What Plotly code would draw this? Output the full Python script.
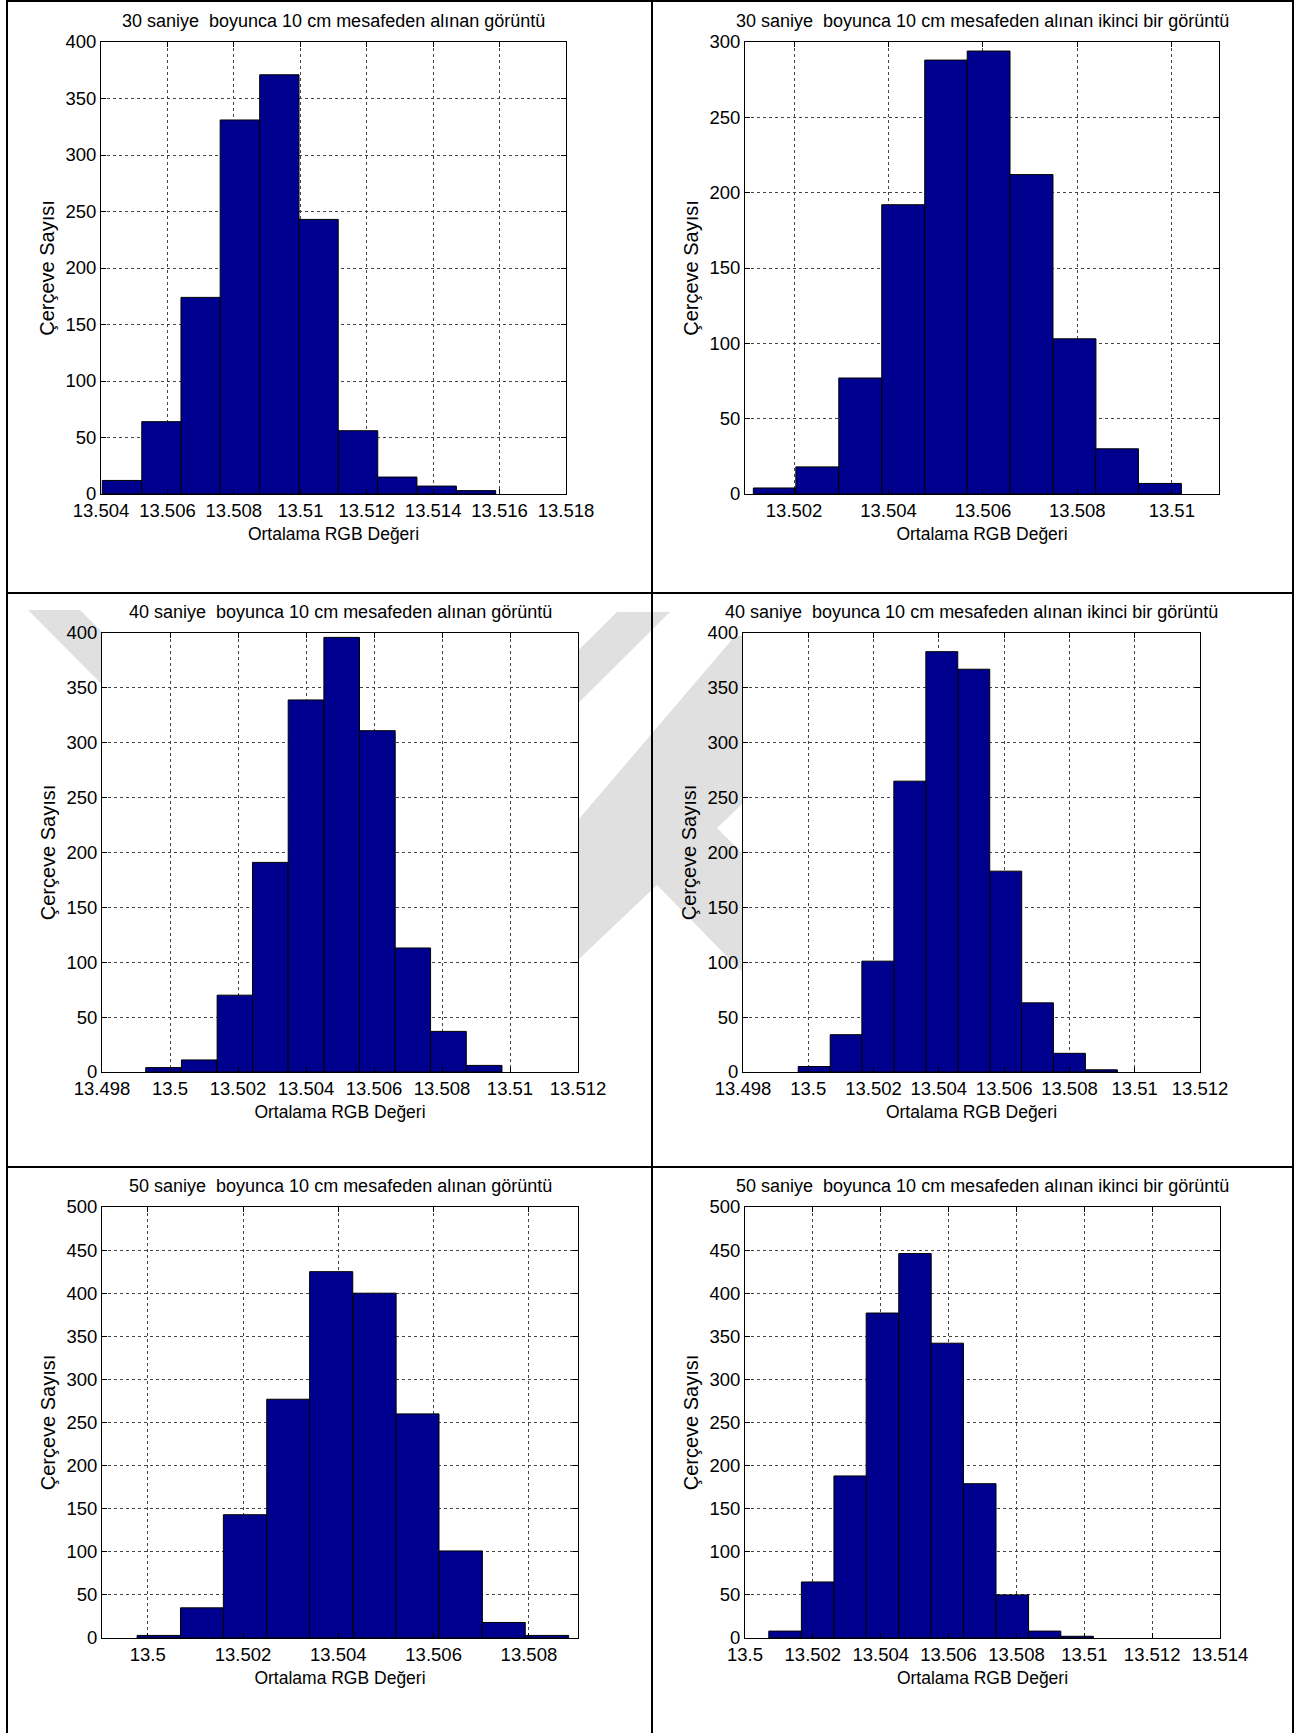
import plotly.graph_objects as go

# Histogramlar: Ortalama RGB Değeri (kutu merkezleri) ve Çerçeve Sayısı
rgb_30_1 = [13.50463, 13.50582, 13.50700, 13.50818, 13.50937, 13.51055, 13.51174, 13.51292, 13.51411, 13.51529]
sayi_30_1 = [12, 64, 174, 331, 371, 243, 56, 15, 7, 3]

rgb_30_2 = [13.50159, 13.50249, 13.50340, 13.50431, 13.50522, 13.50612, 13.50703, 13.50794, 13.50884, 13.50975]
sayi_30_2 = [4, 18, 77, 192, 288, 294, 212, 103, 30, 7]

rgb_40_1 = [13.49981, 13.50086, 13.50191, 13.50295, 13.50400, 13.50505, 13.50610, 13.50714, 13.50819, 13.50924]
sayi_40_1 = [4, 11, 70, 191, 339, 396, 311, 113, 37, 6]

rgb_40_2 = [13.50018, 13.50116, 13.50213, 13.50311, 13.50409, 13.50507, 13.50605, 13.50702, 13.50800, 13.50898]
sayi_40_2 = [5, 34, 101, 265, 383, 367, 183, 63, 17, 2]

rgb_50_1 = [13.50023, 13.50114, 13.50204, 13.50295, 13.50385, 13.50476, 13.50566, 13.50657, 13.50747, 13.50838]
sayi_50_1 = [3, 35, 143, 277, 425, 400, 260, 101, 18, 3]

rgb_50_2 = [13.50118, 13.50214, 13.50310, 13.50405, 13.50501, 13.50596, 13.50692, 13.50788, 13.50883, 13.50979]
sayi_50_2 = [8, 65, 188, 377, 446, 342, 179, 50, 8, 2]

basliklar = [
    "30 saniye\u00a0 boyunca 10 cm mesafeden alınan görüntü",
    "30 saniye\u00a0 boyunca 10 cm mesafeden alınan ikinci bir görüntü",
    "40 saniye\u00a0 boyunca 10 cm mesafeden alınan görüntü",
    "40 saniye\u00a0 boyunca 10 cm mesafeden alınan ikinci bir görüntü",
    "50 saniye\u00a0 boyunca 10 cm mesafeden alınan görüntü",
    "50 saniye\u00a0 boyunca 10 cm mesafeden alınan ikinci bir görüntü",
]

xtick_30_1 = ["13.504", "13.506", "13.508", "13.51", "13.512", "13.514", "13.516", "13.518"]
xtick_30_2 = ["13.502", "13.504", "13.506", "13.508", "13.51"]
xtick_40_1 = ["13.498", "13.5", "13.502", "13.504", "13.506", "13.508", "13.51", "13.512"]
xtick_40_2 = ["13.498", "13.5", "13.502", "13.504", "13.506", "13.508", "13.51", "13.512"]
xtick_50_1 = ["13.5", "13.502", "13.504", "13.506", "13.508"]
xtick_50_2 = ["13.5", "13.502", "13.504", "13.506", "13.508", "13.51", "13.512", "13.514"]

W, H = 1310, 1733
FONT = "Liberation Sans, Arial, sans-serif"
BAR = "#00008F"
GRI = "#e0e0e0"


def px(x):
    return x / W


def py(y):
    return 1 - y / H


# (veri, sayılar, x etiketleri, x aralığı, y üst sınırı, çizim alanı px: sol, üst, sağ, alt)
paneller = [
    (rgb_30_1, sayi_30_1, xtick_30_1, [13.504, 13.518], 400, (101, 42, 566, 494)),
    (rgb_30_2, sayi_30_2, xtick_30_2, [13.50096, 13.51100], 300, (745, 42, 1219, 494)),
    (rgb_40_1, sayi_40_1, xtick_40_1, [13.498, 13.512], 400, (102, 633, 578, 1072)),
    (rgb_40_2, sayi_40_2, xtick_40_2, [13.498, 13.512], 400, (743, 633, 1200, 1072)),
    (rgb_50_1, sayi_50_1, xtick_50_1, [13.49904, 13.50903], 500, (102, 1207, 578, 1638)),
    (rgb_50_2, sayi_50_2, xtick_50_2, [13.5, 13.514], 500, (745, 1207, 1220, 1638)),
]

fig = go.Figure()
layout = {}
annotations = []
shapes = []


def yol(noktalar):
    return "M " + " L ".join(f"{px(x):.5f},{py(y):.5f}" for x, y in noktalar) + " Z"


# filigran (arka plan logosu)
shapes.append(dict(type="path", xref="paper", yref="paper", layer="below",
                   path=yol([(28, 610), (80, 610), (348, 878), (617, 612), (670, 612), (348, 932)]),
                   fillcolor=GRI, line=dict(width=0)))
shapes.append(dict(type="path", xref="paper", yref="paper", layer="below",
                   path=yol([(735, 636), (919, 636), (717, 828), (800, 911), (755, 985),
                             (657, 885), (480, 1053), (480, 935)]),
                   fillcolor=GRI, line=dict(width=0)))

for i, (xs, ys, etiket, xr, ymax, kutu) in enumerate(paneller, start=1):
    sfx = "" if i == 1 else str(i)
    sol, ust, sag, alt = kutu
    genislik = (xs[-1] - xs[0]) / (len(xs) - 1)
    fig.add_trace(go.Bar(
        x=xs, y=ys, width=genislik,
        marker=dict(color=BAR, line=dict(color="black", width=1)),
        xaxis="x" + sfx, yaxis="y" + sfx, showlegend=False,
    ))
    tickvals = [float(t) for t in etiket]
    eksen = dict(
        showline=True, linecolor="black", linewidth=1, mirror="ticks",
        ticks="inside", ticklen=5, tickcolor="black", automargin=False,
        showgrid=True, gridcolor="#444444", griddash="dot", gridwidth=1,
        zeroline=False, tickfont=dict(family=FONT, size=18.5, color="black"),
    )
    layout["xaxis" + sfx] = dict(
        eksen, domain=[px(sol), px(sag)], anchor="y" + sfx, range=xr,
        tickvals=tickvals, ticktext=etiket,
        title=dict(text="Ortalama RGB Değeri", standoff=7,
                   font=dict(family=FONT, size=17.5, color="black")),
    )
    layout["yaxis" + sfx] = dict(
        eksen, domain=[py(alt), py(ust)], anchor="x" + sfx, range=[0, ymax],
        dtick=50,
        title=dict(text="Çerçeve Sayısı", standoff=5,
                   font=dict(family=FONT, size=20, color="black")),
    )
    annotations.append(dict(
        text=basliklar[i - 1], xref="paper", yref="paper",
        x=px((sol + sag) / 2), y=py(ust - 21), xanchor="center", yanchor="middle",
        showarrow=False, font=dict(family=FONT, size=18, color="black"),
    ))
    # çizim alanının beyaz zemini (filigranı örter)
    shapes.append(dict(type="rect", xref="x" + sfx + " domain", yref="y" + sfx + " domain",
                       x0=0, x1=1, y0=0, y1=1, layer="below",
                       fillcolor="white", line=dict(width=0)))

# tablo çizgileri
cizgi = dict(color="black", width=2)
for x in (7, 652, 1293):
    shapes.append(dict(type="line", xref="paper", yref="paper",
                       x0=px(x), x1=px(x), y0=0, y1=1, line=cizgi))
for y in (1, 593, 1167):
    shapes.append(dict(type="line", xref="paper", yref="paper",
                       x0=px(7), x1=px(1293), y0=py(y), y1=py(y), line=cizgi))

fig.update_layout(
    width=W, height=H,
    margin=dict(l=0, r=0, t=0, b=0, autoexpand=False),
    paper_bgcolor="white", plot_bgcolor="white",
    font=dict(family=FONT, color="black"),
    annotations=annotations, shapes=shapes,
    **layout,
)

# sayfa kenar boşluğunu kaldır, araç çubuğunu gizle
fig.write_html("out.html", config={"displayModeBar": False},
               post_script="document.body.style.margin='0';")
